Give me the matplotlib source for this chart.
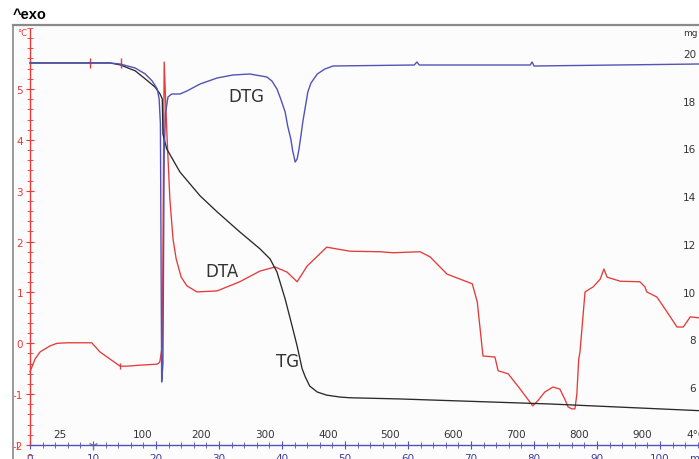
import matplotlib
matplotlib.use("Agg")
import matplotlib.pyplot as plt
from matplotlib.lines import Line2D
from matplotlib.ticker import MultipleLocator

plt.rcParams["axes.unicode_minus"] = False

# ---- measurement (time in min) ----
dta_t = [0.0, 0.8, 1.6, 2.4, 3.2, 4.3, 5.9, 9.8, 11.1, 12.7, 14.3, 15.4, 17.5, 20.2,
         20.6, 21.0, 21.3, 21.7, 22.2, 22.7, 23.2, 24.0, 24.9, 26.5, 29.7, 33.3, 36.5,
         38.9, 40.8, 42.4, 44.0, 47.1, 50.8, 55.6, 57.6, 61.9, 63.5, 66.2, 70.2, 71.0,
         71.9, 73.8, 74.3, 75.9, 77.8, 79.8, 80.6, 81.7, 83.0, 84.1, 84.9, 85.4, 86.0,
         86.5, 86.8, 87.1, 87.3, 88.1, 89.4, 90.5, 91.1, 91.6, 93.7, 96.8, 97.6, 97.9,
         99.5, 101.1, 102.7, 103.7, 104.8, 106.2]
dta_c = [-0.56, -0.31, -0.17, -0.11, -0.05, 0.0, 0.01, 0.01, -0.17, -0.31, -0.45, -0.45,
         -0.43, -0.41, -0.37, -0.05, 5.53, 4.21, 2.84, 2.05, 1.66, 1.30, 1.13, 1.01,
         1.03, 1.21, 1.42, 1.50, 1.40, 1.21, 1.52, 1.89, 1.81, 1.80, 1.78, 1.80, 1.70,
         1.36, 1.17, 0.81, -0.25, -0.27, -0.54, -0.60, -0.90, -1.23, -1.13, -0.96,
         -0.86, -0.90, -1.10, -1.25, -1.29, -1.29, -1.00, -0.31, -0.17, 1.01, 1.11,
         1.26, 1.46, 1.30, 1.22, 1.21, 1.11, 1.01, 0.91, 0.62, 0.32, 0.32, 0.52, 0.50]

tg_t = [0.0, 12.7, 14.3, 16.7, 18.3, 19.8, 20.6, 21.0, 21.1, 21.7, 23.8, 27.0, 29.7,
        33.3, 36.5, 38.1, 39.2, 40.5, 41.6, 42.4, 43.2, 43.7, 44.4, 45.6, 47.1, 49.2,
        50.8, 58.7, 82.5, 106.2]
tg_mg = [19.58, 19.58, 19.50, 19.25, 18.91, 18.58, 18.30, 18.07, 16.60, 15.98, 15.01,
         14.01, 13.34, 12.50, 11.79, 11.37, 10.82, 9.69, 8.56, 7.72, 6.76, 6.42, 6.04,
         5.79, 5.66, 5.58, 5.55, 5.50, 5.29, 5.01]

dtg_t = [0.0, 12.7, 14.3, 16.7, 18.3, 19.4, 20.2, 20.5, 20.7, 20.9, 21.1, 21.3, 21.5,
         21.9, 22.5, 23.8, 24.9, 27.0, 29.7, 32.2, 34.9, 37.6, 38.4, 39.2, 39.8, 40.5,
         40.9, 41.4, 41.7, 42.1, 42.4, 42.7, 43.0, 43.3, 43.7, 44.1, 44.6, 45.6, 46.8,
         48.1, 61.0, 61.4, 61.8, 79.4, 79.7, 80.0, 106.2]
dtg_v = [0.01, 0.01, 0.0, -0.04, -0.10, -0.17, -0.25, -0.35, -0.60, -3.18, -3.00, -0.90,
         -0.50, -0.33, -0.30, -0.30, -0.27, -0.20, -0.14, -0.11, -0.10, -0.13, -0.17,
         -0.25, -0.35, -0.48, -0.62, -0.75, -0.87, -0.98, -0.95, -0.85, -0.72, -0.58,
         -0.43, -0.28, -0.19, -0.10, -0.05, -0.02, -0.01, 0.02, -0.01, -0.01, 0.02,
         -0.02, 0.0]

# evaluation limits set on the weight curve
limit_t = [9.5, 14.4]

# sample temperature at given times
temp_tick_min = [4.8, 17.9, 27.2, 37.3, 47.3, 57.2, 67.2, 77.1, 87.2, 97.1, 105.8]
temp_tick_labels = ["25", "100", "200", "300", "400", "500", "600", "700", "800", "900", "4°C"]

time_ticks = [0, 10, 20, 30, 40, 50, 60, 70, 80, 90, 100]
mg_ticks = [6, 8, 10, 12, 14, 16, 18, 20]
degc_ticks = [-2, -1, 0, 1, 2, 3, 4, 5]

RED = "#e53a3a"
BLUE = "#5252b8"
BLACK = "#2a2a2a"
GRAY = "#8a8a8a"
TXT = "#333333"

W, H = 699, 460
fig = plt.figure(figsize=(W / 100, H / 100), dpi=100)
fig.patch.set_facecolor("white")

ax = fig.add_axes([13 / W, 0.0, (W - 13) / W, (H - 26) / H])
ax.set_facecolor("#fcfcfc")
ax.set_xlim(-2.698, 106.19)
ax.set_ylim(-2.275, 6.258)

for s in ("top", "right"):
    ax.spines[s].set_visible(False)
ax.spines["left"].set_position(("data", 0))
ax.spines["left"].set_bounds(-2, 6.18)
ax.spines["left"].set_color(RED)
ax.spines["left"].set_linewidth(1.0)
ax.spines["bottom"].set_position(("data", -2))
ax.spines["bottom"].set_bounds(0, 106.2)
ax.spines["bottom"].set_color(BLUE)
ax.spines["bottom"].set_linewidth(1.0)

ax.set_yticks(degc_ticks)
ax.yaxis.set_minor_locator(MultipleLocator(0.2))
ax.tick_params(axis="y", which="major", direction="inout", length=6, width=0.8,
               colors=RED, labelsize=7.5, pad=2)
ax.tick_params(axis="y", which="minor", direction="inout", length=4, width=0.6, color=RED)

ax.set_xticks(time_ticks)
ax.xaxis.set_minor_locator(MultipleLocator(2))
ax.tick_params(axis="x", which="major", direction="inout", length=6, width=0.8,
               color=BLUE, labelcolor="#3a3aa0", labelsize=7.5, pad=3)
ax.tick_params(axis="x", which="minor", direction="inout", length=4, width=0.6, color=BLUE)

for t, lab in zip(temp_tick_min, temp_tick_labels):
    ax.annotate(lab, (t, -2), xytext=(0, 4), textcoords="offset points",
                ha="center", va="bottom", fontsize=7.5, color=TXT)
ax.annotate("min", (104.8, -2), xytext=(0, -6), textcoords="offset points",
            ha="left", va="top", fontsize=7.5, color="#3a3aa0")
ax.plot([10], [-2], marker="1", ms=7, mew=1.0, color="#7a7a9a", clip_on=False)

ax.plot(dta_t, dta_c, color=RED, lw=0.95)
ax.plot([14.3], [-0.45], marker="|", ms=5, mew=0.9, color=RED)

# weight axis on the right, labels sit inside the frame
ax2 = ax.twinx()
ax2.set_ylim(2.984, 21.17)
for s in ax2.spines.values():
    s.set_visible(False)
ax2.set_yticks(mg_ticks)
ax2.tick_params(axis="y", length=0, labelsize=7.5, labelcolor=TXT, pad=-2)
plt.setp(ax2.get_yticklabels(), ha="right")
ax2.plot(tg_t, tg_mg, color=BLACK, lw=0.95)
ax2.plot(limit_t, [tg_mg[0]] * len(limit_t), ls="none", marker="|", ms=7, mew=1.0, color=RED)

# derivative curve on its own hidden scale
ax3 = ax.twinx()
ax3.set_ylim(-3.95, 0.39)
ax3.axis("off")
ax3.plot(dtg_t, dtg_v, color=BLUE, lw=1.0)

ax.text(34.4, 4.87, "DTG", fontsize=12, color=TXT, ha="center", va="center")
ax.text(30.5, 1.43, "DTA", fontsize=12, color=TXT, ha="center", va="center")
ax.text(40.9, -0.34, "TG", fontsize=12, color=TXT, ha="center", va="center")

fig.text(22 / W, 1 - 34 / H, "°C", fontsize=6, color=RED, ha="center", va="center")
fig.text(690 / W, 1 - 33 / H, "mg", fontsize=6.5, color=TXT, ha="center", va="center")
fig.text(13 / W, 1 - 15 / H, "^exo", fontsize=10.5, fontweight="bold",
         family="Liberation Sans", color="black", ha="left", va="center")

fig.add_artist(Line2D([13 / W, 1.0], [1 - 26 / H] * 2, color=GRAY, lw=1.6))
fig.add_artist(Line2D([13 / W] * 2, [0.0, 1 - 26 / H], color=GRAY, lw=1.2))

fig.savefig("out.png", dpi=100)
